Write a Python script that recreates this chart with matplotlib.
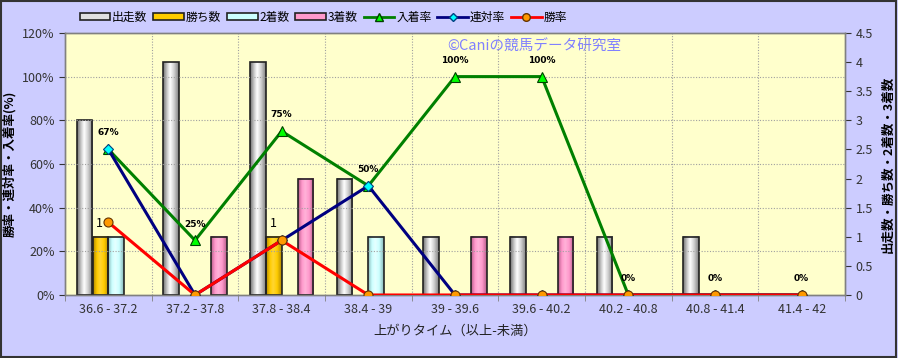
import numpy as np
import matplotlib
matplotlib.use("Agg")
import matplotlib.pyplot as plt
from matplotlib.colors import LinearSegmentedColormap
from matplotlib.patches import Patch, Rectangle
from matplotlib.lines import Line2D

plt.rcParams['font.family'] = ['Noto Sans CJK JP', 'DejaVu Sans']

# data
categories = ['36.6 - 37.2', '37.2 - 37.8', '37.8 - 38.4', '38.4 - 39', '39 - 39.6',
              '39.6 - 40.2', '40.2 - 40.8', '40.8 - 41.4', '41.4 - 42']
runs = [3, 4, 4, 2, 1, 1, 1, 1, 0]       # 出走数
wins = [1, 0, 1, 0, 0, 0, 0, 0, 0]       # 勝ち数
seconds = [1, 0, 0, 1, 0, 0, 0, 0, 0]    # 2着数
thirds = [0, 1, 2, 0, 1, 1, 0, 0, 0]     # 3着数
place_rate = [66.7, 25, 75, 50, 100, 100, 0, 0, 0]   # 入着率
quinella_rate = [66.7, 0, 25, 50, 0, 0, 0, 0, 0]     # 連対率
win_rate = [33.3, 0, 25, 0, 0, 0, 0, 0, 0]           # 勝率
place_labels = ['67%', '25%', '75%', '50%', '100%', '100%', '0%', '0%', '0%']

fig = plt.figure(figsize=(8.98, 3.58), dpi=100)
fig.patch.set_facecolor('#ccccff')
# outer frame
fig.add_artist(Rectangle((0.001, 0.003), 0.997, 0.995, transform=fig.transFigure,
                         fill=False, edgecolor='#333333', lw=1.5))

ax = fig.add_axes([0.0724, 0.176, 0.8686, 0.732])
ax.set_facecolor('#ffffcc')
ax2 = ax.twinx()

x = np.arange(len(categories))
width = 0.18
offsets = [-0.275, -0.09, 0.09, 0.275]
series = [runs, wins, seconds, thirds]
names = ['出走数', '勝ち数', '2着数', '3着数']
grads = [
    ['#707070', '#c8c8c8', '#ffffff', '#d0d0d0', '#808080'],
    ['#b08800', '#ffcc00', '#ffd633', '#ffcc00', '#b08800'],
    ['#88b8b8', '#ccffff', '#e6ffff', '#ccffff', '#88b8b8'],
    ['#b85c8a', '#ff99cc', '#ffb3d9', '#ff99cc', '#b85c8a'],
]
base_cols = ['#e0e0e0', '#ffcc00', '#ccffff', '#ff99cc']

grad = np.linspace(0, 1, 64).reshape(1, -1)
for vals, off, cols in zip(series, offsets, grads):
    cmap = LinearSegmentedColormap.from_list('g', list(zip([0, 0.25, 0.45, 0.7, 1], cols)))
    vals = np.array(vals)
    keep = vals > 0
    for xi, v in zip(x[keep], vals[keep]):
        x0 = xi + off - width / 2
        ax.imshow(grad, extent=[x0, x0 + width, 0, v], aspect='auto', cmap=cmap,
                  zorder=2, interpolation='bilinear')
    ax.bar(x[keep] + off, vals[keep], width, fill=False, edgecolor='#222222', lw=1.2, zorder=3)

# labels above 勝ち数 bars
for xi, v in zip(x, wins):
    if v > 0:
        ax.text(xi - 0.1, v + 0.12, str(v), ha='center', va='bottom', fontsize=9, zorder=4)

ax.set_xlim(-0.5, len(categories) - 0.5)
ax.set_ylim(0, 4.5)
ax.set_yticks(np.arange(0, 4.51, 0.5))
ax.set_yticklabels(['0', '0.5', '1', '1.5', '2', '2.5', '3', '3.5', '4', '4.5'])
ax.yaxis.tick_right()
ax.yaxis.set_label_position('right')
ax.set_ylabel('出走数・勝ち数・2着数・3着数', fontsize=9, fontweight='bold', labelpad=6)

# rate lines
ax2.plot(x, place_rate, color='#008000', lw=2.2, marker='^', ms=7, mfc='#00ff00',
         mec='#004000', mew=0.8, zorder=5, label='入着率')
ax2.plot(x, quinella_rate, color='#000080', lw=2.2, marker='D', ms=5, mfc='#00ffff',
         mec='#004080', mew=0.8, zorder=6, label='連対率')
ax2.plot(x, win_rate, color='#ff0000', lw=2.2, marker='o', ms=6.5, mfc='#ff9900',
         mec='#663300', mew=0.8, zorder=7, label='勝率')
for xi, v, lab in zip(x, place_rate, place_labels):
    ax2.text(xi, v + 7.5, lab, ha='center', va='center', fontsize=6.5, fontweight='bold',
             family='DejaVu Sans', zorder=8)

ax2.set_ylim(0, 120)
ax2.set_yticks(np.arange(0, 121, 20))
ax2.set_yticklabels([f'{v}%' for v in range(0, 121, 20)])
ax2.yaxis.tick_left()
ax2.yaxis.set_label_position('left')
ax2.set_ylabel('勝率・連対率・入着率(%)', fontsize=9, fontweight='bold', labelpad=4)

# grid
for yv in range(20, 120, 20):
    ax2.axhline(yv, color='#a0a0a0', lw=0.8, ls=(0, (1, 1.5)), zorder=1)
for b in np.arange(0.5, len(categories) - 0.5, 1):
    ax2.axvline(b, color='#a0a0a0', lw=0.8, ls=(0, (1, 1.5)), zorder=1)

ax.set_xticks(x)
ax.set_xticklabels(categories)
ax.set_xticks(np.arange(-0.5, len(categories), 1), minor=True)
ax.tick_params(axis='x', which='major', length=0, labelsize=9, colors='#333333', pad=6)
ax.tick_params(axis='x', which='minor', length=4, color='#808080')
ax.tick_params(axis='y', labelsize=9, colors='#333333', length=4)
ax2.tick_params(axis='y', labelsize=9, colors='#333333', length=4)
ax.set_xlabel('上がりタイム（以上-未満）', fontsize=9.5, color='#222222', labelpad=6)

for a in (ax, ax2):
    for s in a.spines.values():
        s.set_color('#808080')
        s.set_linewidth(1.0)

ax.text(0.49, 0.948, '©Caniの競馬データ研究室', transform=ax.transAxes, fontsize=10.5,
        color='#8080ff', ha='left', va='center', zorder=9)

handles = [Patch(facecolor=c, edgecolor='#222222', lw=1.2) for c in base_cols]
handles += [
    Line2D([], [], color='#008000', lw=2, marker='^', ms=6, mfc='#00ff00', mec='#004000'),
    Line2D([], [], color='#000080', lw=2, marker='D', ms=4.5, mfc='#00ffff', mec='#004080'),
    Line2D([], [], color='#ff0000', lw=2, marker='o', ms=5.5, mfc='#ff9900', mec='#663300'),
]
labels = names + ['入着率', '連対率', '勝率']
fig.legend(handles, labels, loc='upper center', bbox_to_anchor=(0.36, 1.0), ncol=7,
           frameon=False, fontsize=8.5, handlelength=2.6, handleheight=0.5,
           columnspacing=0.5, handletextpad=0.15)

fig.savefig('out.png', dpi=100, facecolor=fig.get_facecolor())
